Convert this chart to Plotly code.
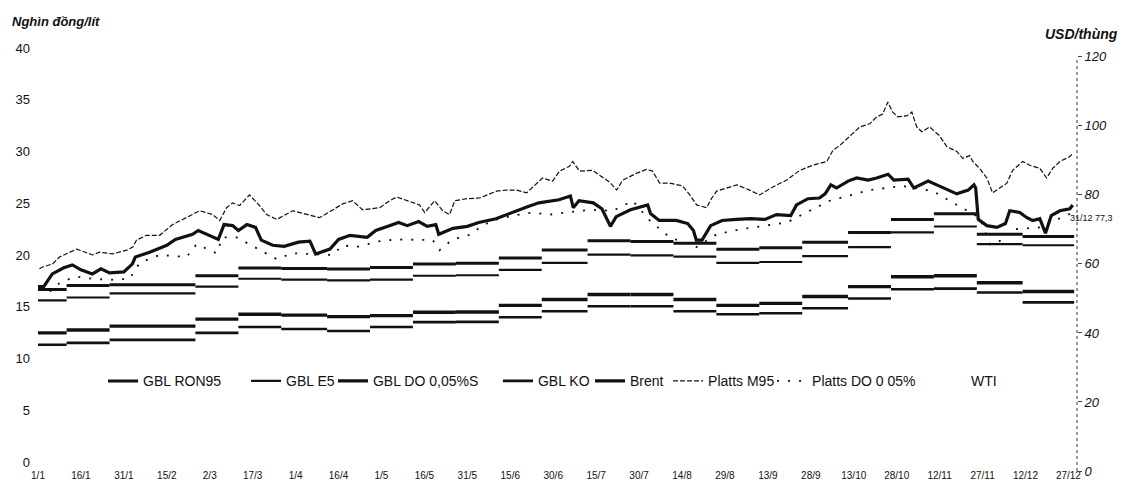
import plotly.graph_objects as go

# ---------------- data ----------------
# x unit = day of the year (0 = 1/1); tick labels every 15 days
TICK_LABELS = ["1/1", "16/1", "31/1", "15/2", "2/3", "17/3", "1/4", "16/4", "1/5", "16/5",
               "31/5", "15/6", "30/6", "15/7", "30/7", "14/8", "29/8", "13/9", "28/9",
               "13/10", "28/10", "12/11", "27/11", "12/12", "27/12"]

# retail price periods (left axis, thousand VND / litre)
PERIOD_START = [0, 10, 25, 55, 70, 85, 101, 116, 131, 146, 161, 176, 192, 207, 222, 237,
                252, 267, 283, 298, 313, 328, 344]
END_DAY = 362
GBL_RON95 = [16.67, 17.05, 17.14, 18.0, 18.76, 18.7, 18.65, 18.8, 19.14, 19.2, 19.71, 20.48,
             21.38, 21.3, 21.15, 20.57, 20.7, 21.24, 22.19, 23.43, 24.0, 22.0, 21.8]
GBL_E5 = [15.62, 15.9, 16.29, 16.95, 17.71, 17.62, 17.55, 17.62, 18.0, 18.05, 18.57, 19.24,
          20.05, 19.97, 19.85, 19.24, 19.33, 19.9, 20.76, 22.19, 22.76, 21.05, 20.95]
GBL_DO = [12.48, 12.76, 13.14, 13.81, 14.29, 14.2, 14.05, 14.15, 14.48, 14.5, 15.14, 15.71,
          16.19, 16.19, 15.71, 15.14, 15.33, 16.0, 16.95, 17.9, 18.0, 17.33, 16.48]
GBL_KO = [11.33, 11.52, 11.81, 12.48, 13.05, 12.86, 12.67, 13.05, 13.52, 13.55, 14.0, 14.57,
          15.05, 15.05, 14.57, 14.29, 14.38, 14.86, 15.81, 16.7, 16.76, 16.38, 15.43]

# world prices (right axis, USD / barrel)
BRENT_DAY = [0, 2, 5, 9, 12, 15, 19, 22, 25, 30, 33, 34, 39, 45, 48, 54, 56, 60, 63, 65,
             68, 70, 73, 76, 78, 82, 86, 91, 95, 97, 102, 105, 109, 115, 118, 124, 126, 129, 133, 136,
             139, 140, 145, 150, 154, 160, 166, 171, 175, 179, 182, 186, 187, 189, 194, 197, 199, 200, 202, 207,
             213, 214, 217, 223, 227, 229, 230, 232, 235, 239, 244, 249, 254, 258, 263, 265, 269, 273, 275, 277,
             279, 283, 286, 290, 293, 297, 299, 304, 306, 311, 314, 318, 321, 325, 327, 327.6, 328.5, 331.5, 335, 338,
             339.5, 343, 345.5, 347.5, 350, 352, 354, 357, 360.5, 361.5]
BRENT = [53.4, 53.4, 57.1, 58.9, 59.7, 58.3, 57.1, 58.6, 57.4, 57.7, 60.0, 62.0, 63.4, 65.4, 67.1, 68.6, 69.7, 68.3, 67.1, 71.4,
         71.1, 69.7, 71.4, 70.6, 66.9, 65.4, 65.1, 66.3, 66.6, 62.9, 64.3, 67.1, 68.3, 67.7, 69.7, 71.4, 72.0, 71.1, 72.3, 70.9,
         71.4, 68.6, 70.3, 70.9, 72.0, 73.1, 75.1, 76.6, 77.7, 78.3, 78.6, 79.7, 76.3, 78.3, 77.7, 76.0, 72.9, 70.9, 73.7, 75.7,
         77.1, 74.6, 72.6, 72.6, 71.7, 69.7, 66.9, 66.9, 71.1, 72.6, 72.9, 73.1, 72.9, 74.3, 74.0, 77.1, 78.9, 79.1, 80.3, 82.9,
         82.0, 84.0, 84.9, 84.3, 84.9, 86.0, 84.3, 84.6, 82.0, 84.0, 82.9, 81.4, 80.3, 81.4, 82.9, 82.0, 72.9, 71.1, 70.6, 71.7,
         75.4, 74.9, 73.4, 72.6, 73.1, 68.9, 74.0, 75.4, 76.0, 77.1]

M95_DAY = [0.5, 1.6, 5.1, 7.5, 13.5, 16.3, 19.1, 21.5, 26.1, 31.0, 33.1, 34.4, 37.9, 42.5, 47.0, 56.5, 61.0, 63.5, 65.9, 68.0,
           70.4, 73.9, 77.4, 79.9, 83.4, 89.0, 93.8, 98.4, 101.9, 106.4, 109.9, 113.4, 119.4, 122.8, 125.3, 128.8, 133.3, 135.1, 138.6, 141.4,
           143.8, 145.6, 149.8, 154.3, 160.2, 163.7, 167.2, 170.7, 174.2, 176.3, 179.8, 182.2, 185.7, 186.8, 189.2, 193.8, 196.2, 199.7, 202.2, 204.3,
           209.2, 212.6, 214.7, 217.2, 220.7, 225.2, 227.7, 230.1, 233.6, 235.4, 237.1, 244.1, 248.6, 252.1, 256.7, 261.6, 266.1, 270.7, 275.6, 277.7,
           280.1, 283.6, 287.1, 290.6, 293.0, 295.1, 296.9, 298.6, 300.4, 303.5, 305.3, 307.0, 308.8, 311.5, 315.0, 317.5, 321.0, 323.1, 325.5, 326.6,
           329.0, 331.5, 333.5, 336.0, 338.5, 340.5, 344.0, 346.5, 350.0, 352.4, 354.5, 357.0, 360.5, 361.5]
PLATTS_M95 = [58.6, 59.1, 60.0, 62.0, 64.3, 63.4, 62.6, 63.4, 62.9, 64.0, 64.9, 66.9, 68.3, 68.3, 71.4, 75.4, 74.3, 72.6, 76.3, 77.7,
              76.9, 80.0, 76.9, 74.3, 72.9, 75.4, 74.3, 73.4, 75.1, 77.4, 78.3, 75.7, 76.3, 78.3, 79.4, 78.3, 77.1, 74.9, 78.3, 75.4,
              74.3, 78.3, 78.9, 79.1, 81.1, 81.4, 81.4, 80.6, 83.4, 84.9, 84.0, 86.9, 88.3, 89.7, 86.9, 87.1, 85.7, 83.7, 81.4, 84.3,
              86.3, 87.4, 86.9, 83.4, 83.4, 82.6, 80.0, 77.1, 76.3, 79.1, 81.1, 82.9, 81.4, 80.0, 82.3, 84.3, 87.1, 88.6, 89.7, 92.9,
              94.3, 97.1, 99.7, 100.6, 102.6, 103.4, 106.9, 104.0, 102.6, 102.9, 104.0, 99.7, 98.3, 99.7, 97.1, 94.0, 92.6, 90.6, 91.4, 89.7,
              87.7, 84.9, 80.6, 82.0, 83.4, 87.1, 89.7, 88.6, 87.7, 84.9, 87.7, 89.7, 91.1, 92.0]

PDO_DAY = [4.1, 8.2, 13.5, 19.1, 25.0, 32.0, 35.5, 42.5, 51.9, 55.4, 62.4, 64.5, 69.4, 78.5, 83.4, 89.0, 102.9, 106.4, 111.3, 119.4,
           125.3, 137.9, 140.3, 144.9, 151.5, 154.3, 158.8, 165.8, 172.8, 178.7, 192.7, 200.8, 207.8, 213.7, 220.7, 230.1, 237.1, 245.1, 255.6, 261.6,
           269.6, 276.6, 280.1, 290.6, 302.1, 312.6, 318.5, 329.0, 332.5, 337.0, 340.5, 350.0, 361.5]
PLATTS_DO = [52.0, 54.9, 56.3, 55.7, 55.4, 55.7, 60.3, 62.6, 62.0, 65.7, 63.1, 67.7, 67.7, 63.7, 61.4, 63.1, 62.6, 65.4, 64.9, 66.6,
             67.1, 66.9, 64.0, 67.1, 68.6, 70.6, 72.6, 74.0, 74.9, 74.3, 75.7, 75.4, 78.3, 72.6, 67.7, 64.9, 68.6, 70.0, 71.4, 72.0,
             75.4, 78.3, 79.1, 81.4, 82.6, 81.1, 78.3, 73.4, 65.7, 66.9, 70.0, 70.6, 74.9]

# WTI is listed in the legend but its line is not visible in the picture
WTI_LABEL = "WTI"

# ---------------- figure ----------------
FONT = "Liberation Sans, Arial, sans-serif"
INK = "#111111"


def step_segments(values):
    xs, ys = [], []
    for i, v in enumerate(values):
        end = PERIOD_START[i + 1] if i + 1 < len(values) else END_DAY
        xs += [PERIOD_START[i], end, None]
        ys += [v, v, None]
    return xs, ys


fig = go.Figure()

step_series = [
    ("GBL RON95", GBL_RON95, 3.0, "legend"),
    ("GBL E5", GBL_E5, 2.2, "legend2"),
    ("GBL DO 0,05%S", GBL_DO, 3.4, "legend3"),
    ("GBL KO", GBL_KO, 2.6, "legend4"),
]
for name, vals, w, lg in step_series:
    xs, ys = step_segments(vals)
    fig.add_trace(go.Scatter(x=xs, y=ys, mode="lines", name=name, legend=lg,
                             line=dict(color=INK, width=w), xaxis="x", yaxis="y",
                             hoverinfo="skip"))

fig.add_trace(go.Scatter(x=BRENT_DAY, y=BRENT, mode="lines", name="Brent", legend="legend5",
                         line=dict(color=INK, width=3.2), xaxis="x", yaxis="y2"))
fig.add_trace(go.Scatter(x=M95_DAY, y=PLATTS_M95, mode="lines", name="Platts M95", legend="legend6",
                         line=dict(color=INK, width=1.2, dash="5px,2px"), xaxis="x", yaxis="y2"))
fig.add_trace(go.Scatter(x=PDO_DAY, y=PLATTS_DO, mode="lines", name="Platts DO 0 05%", legend="legend7",
                         line=dict(color=INK, width=1.8, dash="2px,9px"), xaxis="x", yaxis="y2"))

LEGEND_Y = 0.212
legend_x = [0.0626, 0.2002, 0.2839, 0.4427, 0.5313, 0.6064, 0.7065]
legend_layout = {}
for k, lx in enumerate(legend_x, start=1):
    key = "legend" if k == 1 else f"legend{k}"
    legend_layout[key] = dict(x=lx, y=LEGEND_Y, xanchor="left", yanchor="middle",
                              orientation="h", bgcolor="rgba(0,0,0,0)", borderwidth=0,
                              font=dict(family=FONT, size=14, color=INK),
                              itemwidth=30, tracegroupgap=0)

fig.update_layout(
    width=1124, height=493,
    margin=dict(l=38, r=47, t=48, b=16),
    paper_bgcolor="white", plot_bgcolor="rgba(0,0,0,0)",
    font=dict(family=FONT, color=INK),
    showlegend=True,
    xaxis=dict(domain=[0, 1], range=[0, 363], anchor="y",
               tickmode="array", tickvals=[15 * i for i in range(len(TICK_LABELS))],
               ticktext=TICK_LABELS, showgrid=False, zeroline=False, showline=False,
               ticks="", ticklabelstandoff=6,
               tickfont=dict(size=10, color=INK)),
    yaxis=dict(domain=[9 / 429, 1], range=[0, 40], dtick=5, tick0=0,
               showgrid=False, zeroline=False, showline=False, ticks="",
               ticklabelstandoff=7,
               tickfont=dict(size=13, color=INK)),
    yaxis2=dict(domain=[0, 420 / 429], range=[0, 120], dtick=20, tick0=0,
                side="right", anchor="x", showgrid=False, zeroline=False, showline=False,
                ticks="outside", ticklen=4, tickcolor="#444",
                tickfont=dict(size=13, color=INK, style="italic")),
    **legend_layout,
)

# dotted right axis line
fig.add_shape(type="line", xref="paper", x0=1, x1=1, yref="y2", y0=0, y1=120,
              line=dict(color="#333", width=1, dash="dot"))

# legend entry for WTI (no visible line)
fig.add_annotation(text=WTI_LABEL, xref="paper", yref="paper", x=0.896, y=LEGEND_Y,
                   xanchor="left", yanchor="middle", showarrow=False,
                   font=dict(family=FONT, size=14, color=INK))

fig.add_annotation(text="Nghìn đồng/lít", xref="paper", yref="paper", x=-0.027, y=1.063,
                   xanchor="left", yanchor="middle", showarrow=False,
                   font=dict(family=FONT, size=13, color=INK, weight="bold", style="italic"))
fig.add_annotation(text="USD/thùng", xref="paper", yref="paper", x=1.0414, y=1.0326,
                   xanchor="right", yanchor="middle", showarrow=False,
                   font=dict(family=FONT, size=14, color=INK, weight="bold", style="italic"))
fig.add_annotation(text="31/12 77,3", xref="paper", yref="paper", x=1.0135, y=0.597,
                   xanchor="center", yanchor="middle", showarrow=False,
                   font=dict(family=FONT, size=9, color=INK))

fig.write_html("out.html",
               config={"displayModeBar": False},
               post_script="document.body.style.margin='0';document.body.style.overflow='hidden';")
